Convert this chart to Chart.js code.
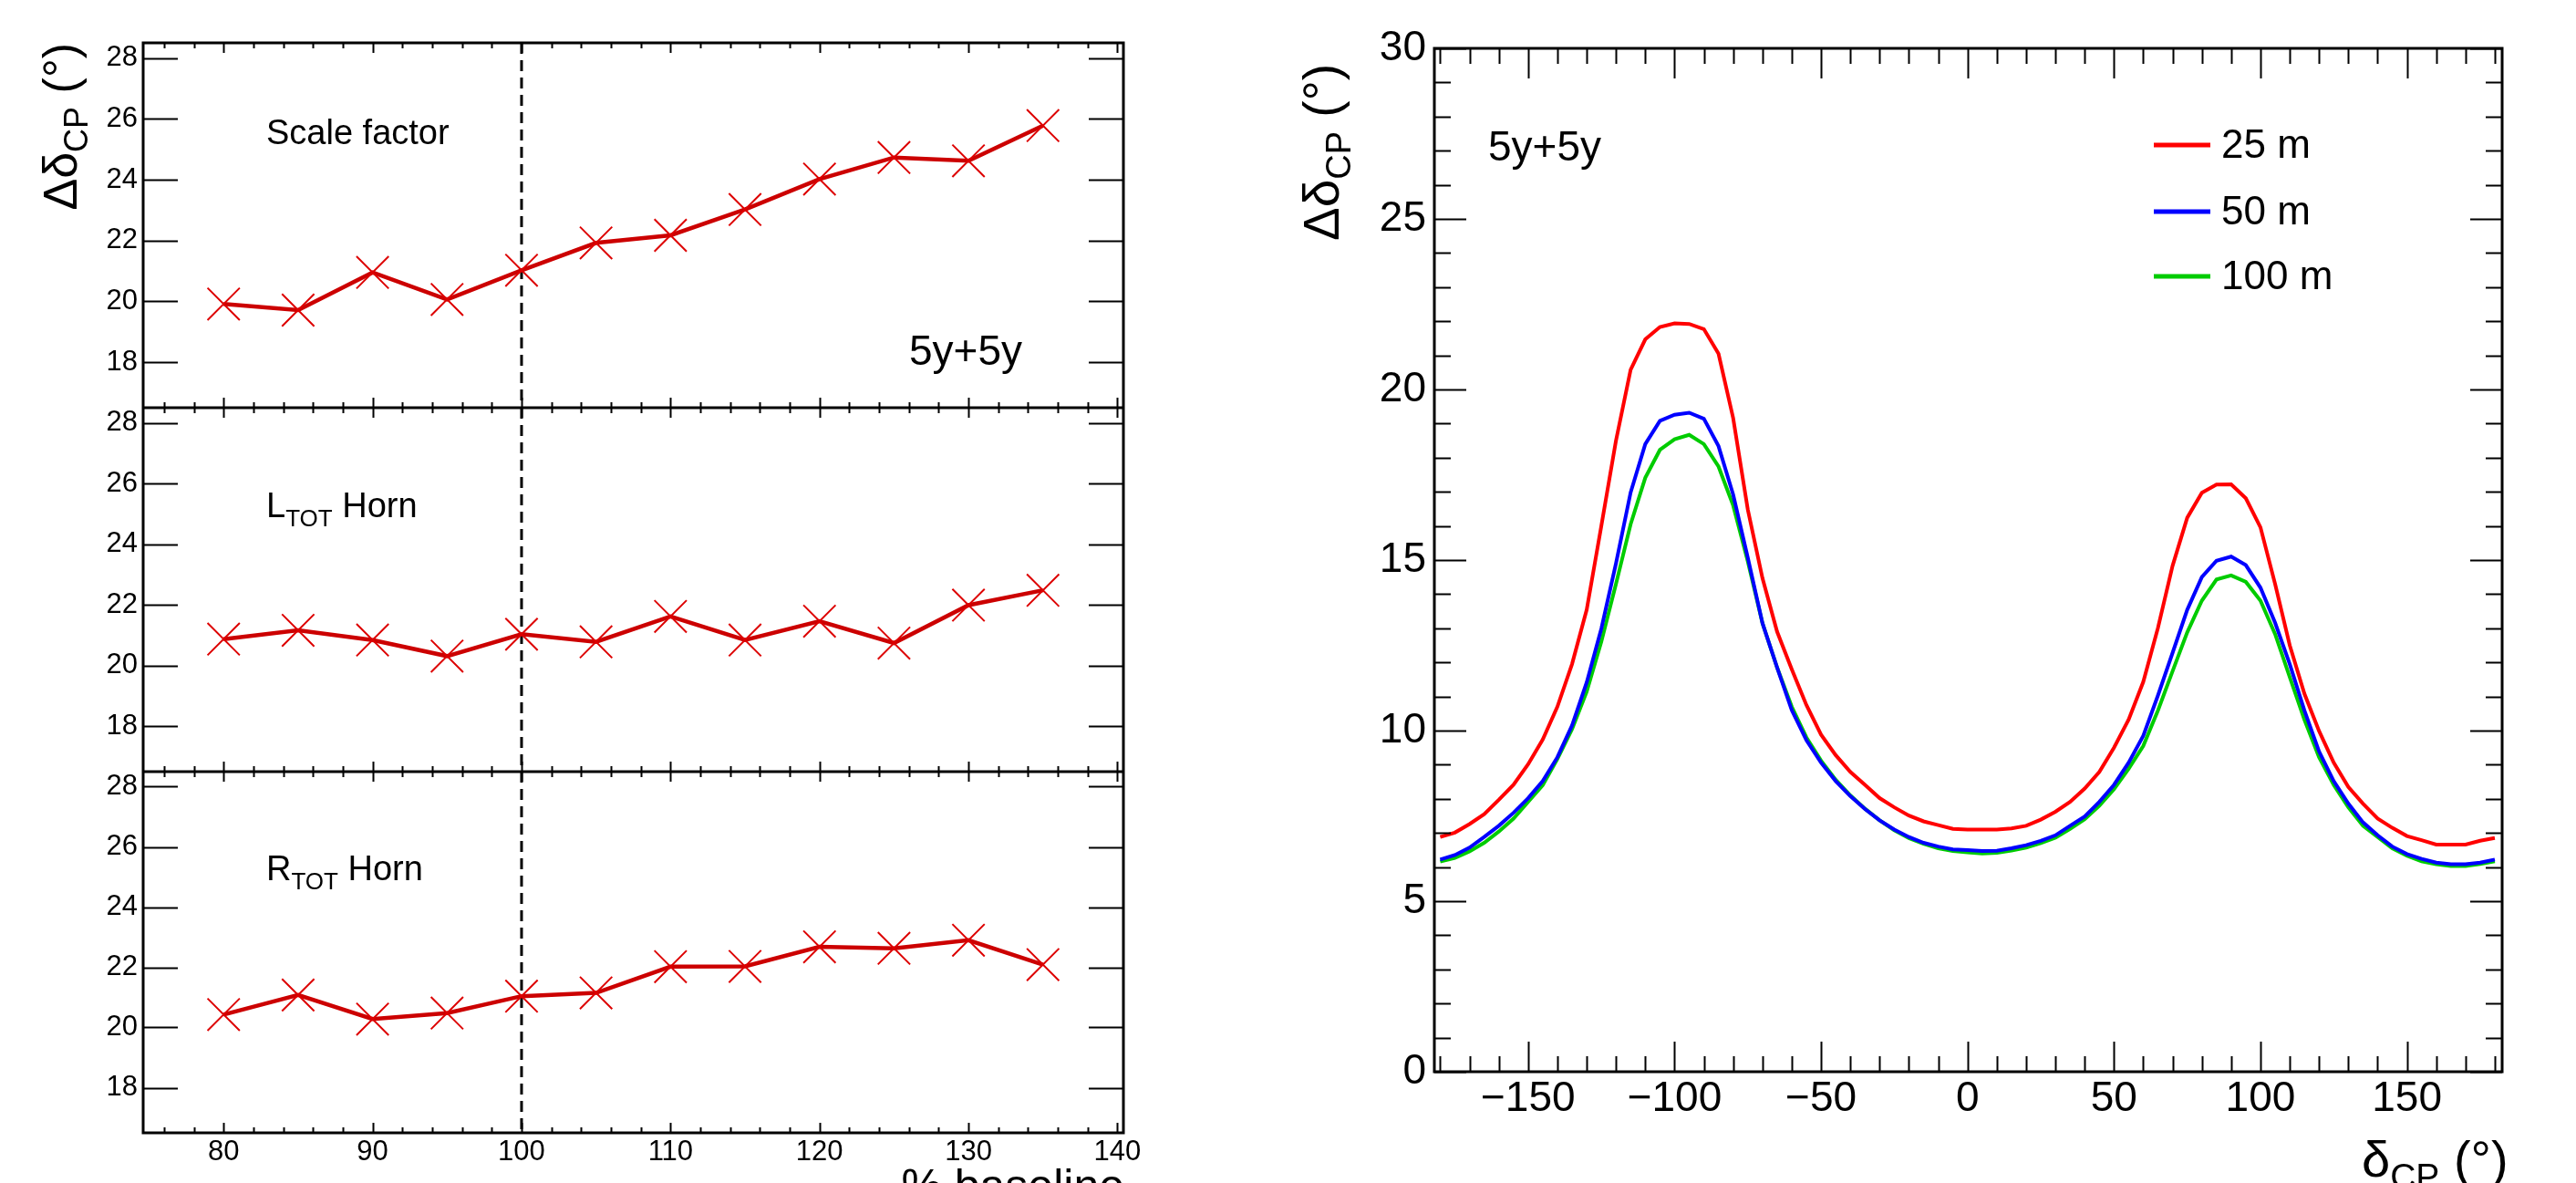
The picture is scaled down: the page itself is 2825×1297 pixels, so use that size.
<!DOCTYPE html>
<html>
<head>
<meta charset="utf-8">
<script src="https://cdn.jsdelivr.net/npm/chart.js@4.4.1/dist/chart.umd.min.js"></script>
<style>
  html, body { margin: 0; padding: 0; background: #fff; }
  #wrap { position: relative; width: 2825px; height: 1297px; overflow: hidden; background: #fff; }
  canvas { position: absolute; }
</style>
</head>
<body>
<div id="wrap">
  <canvas id="c1" width="1300" height="447" style="left:0;top:0;width:1300px;height:447px"></canvas>
  <canvas id="c2" width="1300" height="399" style="left:0;top:447px;width:1300px;height:399px"></canvas>
  <canvas id="c3" width="1300" height="451" style="left:0;top:846px;width:1300px;height:451px"></canvas>
  <canvas id="c4" width="1425" height="1297" style="left:1400px;top:0;width:1425px;height:1297px"></canvas>
</div>
<script>
// ---- data: left panels (variation of horn parameters, % of baseline) ----
var baselinePct = [80, 85, 90, 95, 100, 105, 110, 115, 120, 125, 130, 135];
var scaleFactor = [19.91, 19.71, 20.95, 20.06, 21.02, 21.92, 22.17, 23.02, 24.02, 24.73, 24.62, 25.78];
var lTotHorn    = [20.87, 21.16, 20.84, 20.31, 21.03, 20.78, 21.62, 20.84, 21.46, 20.74, 21.99, 22.48];
var rTotHorn    = [20.43, 21.08, 20.28, 20.48, 21.04, 21.15, 22.02, 22.03, 22.68, 22.63, 22.90, 22.09];
var leftYTicks  = [18, 20, 22, 24, 26, 28];
var leftXTicks  = [80, 90, 100, 110, 120, 130, 140];

// ---- data: right panel (resolution vs true deltaCP) ----
var deltaCP = [-180, -175, -170, -165, -160, -155, -150, -145, -140, -135, -130, -125, -120, -115, -110, -105,
  -100, -95, -90, -85, -80, -75, -70, -65, -60, -55, -50, -45, -40, -35, -30, -25, -20, -15, -10, -5,
  0, 5, 10, 15, 20, 25, 30, 35, 40, 45, 50, 55, 60, 65, 70, 75, 80, 85, 90, 95, 100, 105, 110, 115,
  120, 125, 130, 135, 140, 145, 150, 155, 160, 165, 170, 175, 180];
var res25m = [6.88, 7.01, 7.26, 7.55, 7.97, 8.41, 9.01, 9.74, 10.70, 11.95, 13.54, 16.0, 18.5, 20.58, 21.47, 21.83,
  21.94, 21.92, 21.77, 21.05, 19.16, 16.48, 14.47, 12.9, 11.8, 10.75, 9.88, 9.28, 8.79, 8.41, 8.02, 7.75, 7.51, 7.34, 7.23, 7.12,
  7.10, 7.10, 7.10, 7.13, 7.21, 7.39, 7.62, 7.91, 8.30, 8.79, 9.50, 10.32, 11.43, 13.01, 14.83, 16.24, 16.97, 17.21, 17.22, 16.81, 15.96, 14.30, 12.50, 11.08,
  9.99, 9.06, 8.35, 7.86, 7.42, 7.15, 6.91, 6.79, 6.66, 6.66, 6.66, 6.77, 6.85];
var res50m = [6.22, 6.35, 6.57, 6.88, 7.21, 7.59, 8.02, 8.52, 9.22, 10.15, 11.41, 12.99, 14.90, 16.98, 18.40, 19.08,
  19.26, 19.32, 19.14, 18.34, 16.92, 15.07, 13.15, 11.85, 10.6, 9.72, 9.06, 8.52, 8.08, 7.70, 7.37, 7.10, 6.88, 6.71, 6.60, 6.52,
  6.50, 6.47, 6.48, 6.55, 6.64, 6.77, 6.93, 7.21, 7.48, 7.91, 8.41, 9.06, 9.85, 11.03, 12.28, 13.54, 14.50, 14.98, 15.10, 14.85, 14.19, 13.16, 11.95, 10.59,
  9.39, 8.52, 7.86, 7.31, 6.93, 6.60, 6.38, 6.24, 6.13, 6.08, 6.08, 6.13, 6.22];
var res100m = [6.16, 6.27, 6.46, 6.71, 7.04, 7.42, 7.91, 8.40, 9.17, 10.04, 11.14, 12.61, 14.3, 16.05, 17.41, 18.23,
  18.54, 18.67, 18.40, 17.74, 16.60, 14.96, 13.15, 11.85, 10.7, 9.8, 9.12, 8.56, 8.10, 7.71, 7.37, 7.08, 6.85, 6.68, 6.55, 6.47,
  6.43, 6.40, 6.42, 6.48, 6.57, 6.70, 6.86, 7.12, 7.40, 7.80, 8.28, 8.88, 9.55, 10.59, 11.74, 12.88, 13.81, 14.43, 14.55, 14.36, 13.81, 12.83, 11.57, 10.32,
  9.22, 8.41, 7.75, 7.21, 6.88, 6.55, 6.33, 6.17, 6.08, 6.03, 6.03, 6.09, 6.17];
var rightXTicks = [-150, -100, -50, 0, 50, 100, 150];
var rightYTicks = [0, 5, 10, 15, 20, 25, 30];
var seriesNames = ['25 m', '50 m', '100 m'];

var FONT = '"Liberation Sans", Arial, Helvetica, sans-serif';

function range(a, b, step) {
  var out = [];
  for (var v = a; v <= b + 1e-9; v += step) out.push(Math.round(v * 1000) / 1000);
  return out;
}
function minusLabel(v) {
  return v < 0 ? '\u2212' + Math.abs(v) : String(v);
}
// keep the plot frame exactly where the layout padding puts it
function noLabelPadding(s) {
  s.paddingTop = 0; s.paddingBottom = 0; s.paddingLeft = 0; s.paddingRight = 0;
}

// ROOT-like frame: box + inward ticks on all four sides, optional dashed marker line
var rootFrame = {
  id: 'rootFrame',
  beforeDatasetsDraw: function (chart, args, o) {
    if (o.dashX === undefined) return;
    var ctx = chart.ctx, a = chart.chartArea;
    var px = chart.scales.x.getPixelForValue(o.dashX);
    ctx.save();
    ctx.strokeStyle = '#000';
    ctx.lineWidth = 3;
    ctx.setLineDash([12, 7]);
    ctx.beginPath();
    ctx.moveTo(px, a.top);
    ctx.lineTo(px, a.bottom);
    ctx.stroke();
    ctx.restore();
  },
  afterDatasetsDraw: function (chart, args, o) {
    var ctx = chart.ctx, a = chart.chartArea, xs = chart.scales.x, ys = chart.scales.y;
    ctx.save();
    ctx.strokeStyle = '#000';
    ctx.lineWidth = 2;
    ctx.beginPath();
    function xt(list, len) {
      list.forEach(function (v) {
        var p = Math.round(xs.getPixelForValue(v)) + 0.5;
        ctx.moveTo(p, a.bottom); ctx.lineTo(p, a.bottom - len);
        ctx.moveTo(p, a.top); ctx.lineTo(p, a.top + len);
      });
    }
    function yt(list, len) {
      list.forEach(function (v) {
        var p = Math.round(ys.getPixelForValue(v)) + 0.5;
        ctx.moveTo(a.left, p); ctx.lineTo(a.left + len, p);
        ctx.moveTo(a.right, p); ctx.lineTo(a.right - len, p);
      });
    }
    xt(o.xMinor, o.xMinorLen); xt(o.xMajor, o.xMajorLen);
    yt(o.yMinor, o.yMinorLen); yt(o.yMajor, o.yMajorLen);
    ctx.stroke();
    ctx.lineWidth = 3;
    ctx.strokeRect(a.left, a.top, a.right - a.left, a.bottom - a.top);
    ctx.restore();
  }
};

function drawRich(ctx, item) {
  ctx.save();
  ctx.translate(item.x, item.y);
  if (item.rot) ctx.rotate(item.rot);
  ctx.fillStyle = '#000';
  ctx.textBaseline = 'alphabetic';
  ctx.textAlign = 'left';
  var w = 0;
  item.parts.forEach(function (p) {
    ctx.font = p.size + 'px ' + FONT;
    w += ctx.measureText(p.t).width;
  });
  var cx = item.align === 'right' ? -w : 0;
  item.parts.forEach(function (p) {
    ctx.font = p.size + 'px ' + FONT;
    ctx.fillText(p.t, cx, p.dy || 0);
    cx += ctx.measureText(p.t).width;
  });
  ctx.restore();
}

var rootText = {
  id: 'rootText',
  afterDraw: function (chart, args, o) {
    var ctx = chart.ctx;
    (o.items || []).forEach(function (it) { drawRich(ctx, it); });
    if (o.legend) {
      var L = o.legend;
      chart.data.datasets.forEach(function (ds, i) {
        var y = L.y[i];
        ctx.save();
        ctx.strokeStyle = ds.borderColor;
        ctx.lineWidth = 5;
        ctx.beginPath();
        ctx.moveTo(L.x0, y); ctx.lineTo(L.x1, y);
        ctx.stroke();
        ctx.fillStyle = '#000';
        ctx.font = L.size + 'px ' + FONT;
        ctx.textBaseline = 'middle';
        ctx.fillText(ds.label, L.tx, y + 2);
        ctx.restore();
      });
    }
  }
};

function leftPanel(id, values, opts) {
  var pts = baselinePct.map(function (x, i) { return { x: x, y: values[i] }; });
  return new Chart(document.getElementById(id), {
    type: 'line',
    data: {
      datasets: [{
        data: pts,
        borderColor: '#cc0000',
        borderWidth: 4.5,
        tension: 0,
        pointStyle: 'crossRot',
        pointRadius: 25,
        pointBorderWidth: 2,
        pointBorderColor: '#dd0000',
        pointBackgroundColor: 'transparent'
      }]
    },
    options: {
      responsive: false,
      animation: false,
      devicePixelRatio: 1,
      events: [],
      layout: { autoPadding: false, padding: { top: opts.padTop, right: 68, bottom: 0, left: 0 } },
      plugins: {
        legend: { display: false },
        tooltip: { enabled: false },
        rootFrame: {
          dashX: 100,
          xMajor: leftXTicks, xMajorLen: 11,
          xMinor: range(76, 140, 2), xMinorLen: 6,
          yMajor: leftYTicks, yMajorLen: 38,
          yMinor: [], yMinorLen: 0
        },
        rootText: { items: opts.items }
      },
      scales: {
        x: {
          type: 'linear', min: 74.6, max: 140.4,
          display: opts.showX,
          grid: { display: false, drawTicks: false },
          border: { display: false },
          afterBuildTicks: function (s) { s.ticks = leftXTicks.map(function (v) { return { value: v }; }); },
          afterFit: function (s) { noLabelPadding(s); if (opts.showX) s.height = 55; },
          ticks: { autoSkip: false, maxRotation: 0, padding: 3, color: '#000', font: { family: FONT, size: 31 } }
        },
        y: {
          type: 'linear', min: 16.5, max: 28.5,
          grid: { display: false, drawTicks: false },
          border: { display: false },
          afterBuildTicks: function (s) { s.ticks = leftYTicks.map(function (v) { return { value: v }; }); },
          afterFit: function (s) { noLabelPadding(s); s.width = 157; },
          ticks: { autoSkip: false, padding: 6, color: '#000', font: { family: FONT, size: 31 } }
        }
      }
    },
    plugins: [rootFrame, rootText]
  });
}

leftPanel('c1', scaleFactor, {
  padTop: 47, showX: false,
  items: [
    { x: 292, y: 158, parts: [{ t: 'Scale factor', size: 38 }] },
    { x: 997, y: 400, parts: [{ t: '5y+5y', size: 46 }] },
    { x: 84, y: 47, rot: -Math.PI / 2, align: 'right',
      parts: [{ t: '\u0394\u03b4', size: 52 }, { t: 'CP', size: 36, dy: 12 }, { t: ' (\u00b0)', size: 52 }] }
  ]
});
leftPanel('c2', lTotHorn, {
  padTop: 0, showX: false,
  items: [
    { x: 292, y: 120, parts: [{ t: 'L', size: 38 }, { t: 'TOT', size: 26, dy: 10 }, { t: ' Horn', size: 38 }] }
  ]
});
leftPanel('c3', rTotHorn, {
  padTop: 0, showX: true,
  items: [
    { x: 292, y: 119, parts: [{ t: 'R', size: 38 }, { t: 'TOT', size: 26, dy: 10 }, { t: ' Horn', size: 38 }] },
    { x: 1233, y: 471, align: 'right', parts: [{ t: '% baseline', size: 50 }] }
  ]
});

// ---- right panel ----
function series(vals) {
  return deltaCP.map(function (x, i) { return { x: x, y: vals[i] }; });
}
new Chart(document.getElementById('c4'), {
  type: 'line',
  data: {
    datasets: [
      { label: seriesNames[0], data: series(res25m), borderColor: '#ff0000', borderWidth: 4, pointRadius: 0, tension: 0 },
      { label: seriesNames[1], data: series(res50m), borderColor: '#0000ff', borderWidth: 4, pointRadius: 0, tension: 0 },
      { label: seriesNames[2], data: series(res100m), borderColor: '#00cc00', borderWidth: 4, pointRadius: 0, tension: 0 }
    ]
  },
  options: {
    responsive: false,
    animation: false,
    devicePixelRatio: 1,
    events: [],
    layout: { autoPadding: false, padding: { top: 53, right: 81, bottom: 0, left: 0 } },
    plugins: {
      legend: { display: false },
      tooltip: { enabled: false },
      rootFrame: {
        xMajor: rightXTicks, xMajorLen: 33,
        xMinor: range(-180, 180, 10), xMinorLen: 17,
        yMajor: rightYTicks, yMajorLen: 35,
        yMinor: range(0, 30, 1), yMinorLen: 18
      },
      rootText: {
        items: [
          { x: 232, y: 176, parts: [{ t: '5y+5y', size: 46 }] },
          { x: 68, y: 70, rot: -Math.PI / 2, align: 'right',
            parts: [{ t: '\u0394\u03b4', size: 55 }, { t: 'CP', size: 38, dy: 13 }, { t: ' (\u00b0)', size: 55 }] },
          { x: 1190, y: 1290, parts: [{ t: '\u03b4', size: 56 }, { t: 'CP', size: 39, dy: 13 }, { t: ' (\u00b0)', size: 56 }] }
        ],
        legend: { x0: 962, x1: 1024, tx: 1036, size: 44, y: [159, 232, 303] }
      }
    },
    scales: {
      x: {
        type: 'linear', min: -182, max: 182.5,
        grid: { display: false, drawTicks: false },
        border: { display: false },
        afterBuildTicks: function (s) { s.ticks = rightXTicks.map(function (v) { return { value: v }; }); },
        afterFit: function (s) { noLabelPadding(s); s.height = 122; },
        ticks: { autoSkip: false, maxRotation: 0, padding: 3, color: '#000', font: { family: FONT, size: 46 }, callback: minusLabel }
      },
      y: {
        type: 'linear', min: 0, max: 30,
        grid: { display: false, drawTicks: false },
        border: { display: false },
        afterBuildTicks: function (s) { s.ticks = rightYTicks.map(function (v) { return { value: v }; }); },
        afterFit: function (s) { noLabelPadding(s); s.width = 173; },
        ticks: { autoSkip: false, padding: 9, color: '#000', font: { family: FONT, size: 46 } }
      }
    }
  },
  plugins: [rootFrame, rootText]
});
</script>
</body>
</html>
